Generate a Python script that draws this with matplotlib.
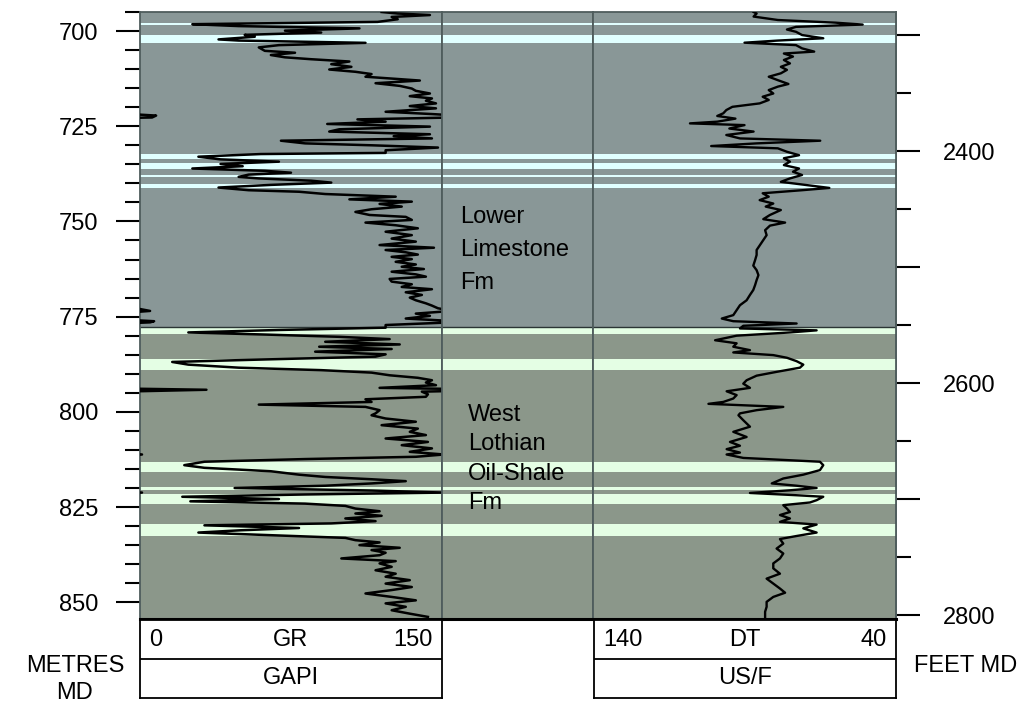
import numpy as np
import matplotlib
matplotlib.use("Agg")
import matplotlib.pyplot as plt
from matplotlib.ticker import MultipleLocator, FixedLocator, FuncFormatter

plt.rcParams['font.family'] = ['Liberation Sans', 'DejaVu Sans']

# Depth window (metres MD)
top_depth = 695.0
base_depth = 854.4

# Formations
formation_names = ["Lower\nLimestone\nFm", "West\nLothian\nOil-Shale\nFm"]
formation_tops = [695.0, 777.8]
formation_bases = [777.8, 854.4]

# Pale (limestone) beds inside each formation: (top, base)
upper_beds = [(697.8, 698.4), (701.0, 703.1), (732.3, 733.6),
              (734.6, 736.2), (737.7, 738.4), (740.2, 741.1)]
lower_beds = [(778.1, 779.5), (786.2, 789.0), (813.1, 815.8),
              (819.7, 820.6), (821.7, 824.1), (829.5, 832.6)]

# Feet ticks on the right-hand depth scale
feet_major = [2300, 2400, 2500, 2600, 2700, 2800]
feet_minor = [2350, 2450, 2550, 2650, 2750]
feet_labelled = [2400, 2600, 2800]

# Gamma ray log
gr_depth = [
    695.0, 695.4, 695.8, 696.3, 696.9, 697.6, 698.2, 698.7, 699.3, 699.9,
    700.4, 701.0, 701.5, 702.2, 702.5, 703.1, 703.7, 704.3, 705.2, 705.7,
    706.3, 706.9, 707.4, 708.0, 708.7, 709.4, 710.1, 710.7, 711.3, 712.0,
    713.0, 713.7, 714.4, 715.1, 715.7, 716.4, 717.1, 717.7, 718.3, 719.0,
    719.7, 720.3, 721.2, 721.8, 722.2, 722.7, 723.2, 723.8, 724.4, 725.1,
    725.8, 726.4, 727.1, 727.6, 728.2, 728.8, 729.5, 730.0, 730.6, 731.3,
    732.0, 732.3, 733.0, 733.7, 734.3, 734.9, 735.5, 736.1, 736.7, 737.2,
    737.7, 738.3, 738.7, 739.3, 739.8, 740.4, 741.1, 741.8, 742.2, 742.8,
    743.5, 744.2, 744.8, 745.4, 746.1, 746.8, 747.5, 748.3, 748.8, 749.6,
    750.3, 751.0, 751.8, 752.7, 753.6, 754.5, 755.3, 756.2, 756.9, 757.5,
    758.1, 758.7, 759.3, 759.9, 760.6, 761.3, 761.9, 762.5, 763.2, 763.9,
    764.5, 765.1, 765.8, 766.5, 767.2, 767.8, 768.6, 769.3, 770.0, 770.7,
    771.5, 772.1, 772.8, 773.5, 774.2, 774.8, 775.5, 776.2, 776.5, 777.2,
    777.9, 778.5, 779.15, 779.7, 780.3, 780.9, 781.6, 782.3, 782.9, 783.5,
    784.2, 784.9, 785.5, 786.2, 786.9, 787.6, 788.4, 789.05, 789.7, 790.4,
    791.06, 791.7, 792.3, 793.0, 793.7, 794.2, 794.7, 795.4, 796.05, 796.7,
    797.4, 798.1, 798.7, 799.56, 800.4, 800.9, 801.75, 802.6, 803.5, 804.4,
    805.25, 806.1, 807.0, 807.9, 808.75, 809.6, 810.5, 811.2, 811.8, 812.4,
    813.1, 814.0, 814.7, 815.6, 816.5, 817.1, 817.7, 818.2, 818.8, 819.4,
    820.0, 820.66, 821.2, 821.7, 822.3, 822.9, 823.5, 824.1, 824.7, 825.4,
    826.1, 826.7, 827.3, 828.0, 828.7, 829.3, 829.8, 830.5, 831.1, 831.7,
    832.4, 833.1, 833.7, 834.3, 835.0, 835.7, 836.3, 837.0, 837.65, 838.5,
    839.2, 839.8, 840.7, 841.6, 842.5, 843.3, 844.2, 845.1, 846.0, 846.8,
    847.7, 848.6, 849.5, 850.3, 851.2, 852.1, 853.0, 853.85,
]
gr_value = [
    120, 128, 144, 125, 128, 118, 26, 49, 109, 72,
    90, 52, 57, 39, 49, 112, 69, 59, 62, 77,
    65, 72, 85, 104, 95, 105, 94, 107, 115, 112,
    139, 117, 129, 135, 137, 144, 134, 145, 142, 147,
    134, 147, 122, 145, 158, 156, 108, 122, 93, 144,
    99, 94, 144, 126, 145, 70, 82, 115, 148, 122,
    122, 60, 29, 40, 69, 40, 51, 26, 62, 75,
    54, 49, 59, 85, 95, 65, 39, 54, 79, 92,
    127, 104, 135, 119, 130, 115, 107, 114, 132, 135,
    112, 127, 138, 122, 135, 125, 137, 119, 146, 122,
    132, 138, 125, 135, 127, 137, 130, 141, 125, 137,
    142, 124, 125, 135, 130, 145, 132, 140, 134, 137,
    142, 145, 148, 155, 137, 144, 132, 157, 155, 122,
    122, 69, 24, 62, 99, 124, 92, 129, 89, 125,
    87, 122, 117, 65, 16, 24, 49, 90, 115, 124,
    138, 145, 142, 147, 119, 183, 140, 143, 142, 112,
    115, 59, 112, 119, 117, 115, 122, 137, 120, 138,
    134, 142, 122, 143, 130, 145, 134, 151, 137, 82,
    32, 22, 32, 65, 79, 92, 115, 132, 115, 92,
    47, 115, 151, 82, 21, 69, 25, 82, 102, 107,
    119, 107, 120, 102, 117, 95, 32, 79, 50, 29,
    65, 102, 107, 119, 109, 129, 115, 122, 119, 100,
    127, 119, 125, 117, 127, 122, 134, 122, 135, 125,
    112, 125, 137, 122, 132, 125, 134, 143,
]

# Sonic log
dt_depth = [
    695.0, 695.4, 696.2, 697.1, 697.8, 698.3, 698.9, 699.6, 700.2, 701.05,
    701.9, 702.5, 703.06, 703.7, 704.55, 705.4, 705.9, 706.7, 707.6, 708.5,
    709.4, 710.2, 711.1, 712.0, 712.9, 713.9, 714.6, 715.5, 716.4, 717.25,
    718.1, 719.0, 719.9, 720.75, 721.6, 722.3, 723.0, 723.8, 724.25, 724.7,
    725.6, 726.4, 727.3, 728.2, 728.8, 729.5, 730.2, 730.8, 731.7, 732.6,
    733.4, 734.3, 735.2, 736.1, 736.95, 737.8, 738.7, 739.6, 740.45, 741.2,
    741.8, 742.6, 743.5, 744.4, 745.3, 746.1, 747.0, 748.3, 749.4, 750.3,
    751.1, 752.3, 753.6, 754.9, 756.2, 757.5, 758.8, 760.15, 761.6, 762.8,
    764.1, 765.4, 766.7, 768.0, 769.3, 770.7, 772.0, 773.3, 774.6, 775.5,
    776.2, 776.8, 777.4, 778.1, 778.6, 779.15, 780.0, 781.2, 782.0, 782.9,
    783.8, 784.4, 785.1, 785.8, 786.7, 787.6, 788.4, 789.5, 790.5, 791.7,
    792.6, 793.7, 794.6, 795.6, 796.5, 797.4, 797.9, 798.7, 799.56, 800.4,
    800.9, 802.2, 803.9, 805.25, 806.6, 807.9, 808.9, 809.8, 810.7, 811.2,
    812.1, 812.7, 813.1, 814.0, 815.3, 816.5, 817.5, 818.8, 819.4, 820.0,
    820.6, 821.3, 821.9, 822.3, 823.2, 823.8, 824.5, 825.4, 826.3, 827.1,
    828.0, 828.9, 829.6, 830.6, 831.7, 832.6, 833.4, 834.6, 835.9, 837.2,
    838.5, 839.8, 841.1, 842.5, 843.8, 845.1, 846.4, 847.5, 848.6, 849.9,
    851.2, 852.5, 853.85,
]
dt_value = [
    87, 86, 87, 79, 60, 51, 73, 76, 73, 71,
    64, 79, 90, 73, 71, 67, 77, 74, 77, 75,
    78, 76, 78, 82, 79, 75.5, 79, 82, 80.5, 84,
    82, 85, 94, 96, 97, 99, 93, 99, 108, 90,
    95, 87, 96, 91.5, 65, 86, 101, 79, 76, 72,
    77, 75, 77, 72, 74, 71, 75, 78, 69.5, 62,
    71, 84, 82, 85, 80.5, 83, 78, 81.6, 83.8, 76.6,
    81.6, 83.2, 82.7, 83.8, 84.9, 86, 86, 86.5, 87.1, 86,
    85.4, 86, 86.5, 87.1, 88.2, 89.3, 91.5, 92.6, 93.7, 97.5,
    93.7, 72.8, 90.4, 91.5, 66.2, 75, 92.6, 99.7, 92.6, 93.7,
    88.2, 93.7, 80.5, 76, 72.8, 70.6, 71.7, 79.4, 86, 89.3,
    90.4, 88.2, 95.9, 92.6, 93.7, 97, 101.9, 77.2, 86, 91.5,
    92, 90.4, 88.2, 93.7, 89.3, 94.8, 91.5, 95.9, 91.5, 95.9,
    90.4, 75, 65.1, 64, 65.1, 70.6, 77.2, 81, 72.8, 66.2,
    75, 88.2, 72.8, 64, 66.2, 68.4, 77.2, 76, 75, 78.3,
    75, 78.3, 66.2, 70.6, 66.2, 72.8, 78.3, 77.2, 79.4, 77.2,
    78.3, 80.5, 80.5, 78.3, 82.7, 80.5, 78.3, 76.6, 80.5, 82.7,
    82.7, 83.2, 83.2,
]

gr_depth = np.array(gr_depth)
gr_value = np.array(gr_value, dtype=float)
dt_depth = np.array(dt_depth)
dt_value = np.array(dt_value, dtype=float)

zone_colors = ["#899797", "#8b978a"]
bed_colors = ["#e0ffff", "#e4fee4"]
spine_col = "#4f5d5d"

W, H = 1033, 705
fig = plt.figure(figsize=(W / 100, H / 100), dpi=100)


def px_axes(x0, y0, x1, y1):
    return fig.add_axes([x0 / W, 1 - y1 / H, (x1 - x0) / W, (y1 - y0) / H])


ax_gr = px_axes(140, 12, 442, 619)
ax_mid = px_axes(442, 12, 593, 619)
ax_dt = px_axes(593, 12, 896, 619)

for ax in (ax_gr, ax_mid, ax_dt):
    ax.set_ylim(base_depth, top_depth)
    for ftop, fbase, col in zip(formation_tops, formation_bases, zone_colors):
        ax.axhspan(ftop, fbase, color=col, lw=0, zorder=0)
    for beds, col in zip((upper_beds, lower_beds), bed_colors):
        for btop, bbase in beds:
            ax.axhspan(btop, bbase, color=col, lw=0, zorder=1)
    ax.axhline(formation_tops[1], color="#2b3535", lw=1.0, zorder=2)
    ax.set_xticks([])
    for s in ax.spines.values():
        s.set_color(spine_col)
        s.set_linewidth(1.3)
    ax.spines['bottom'].set_color('black')
    ax.spines['bottom'].set_linewidth(2.2)

ax_mid.set_yticks([])
ax_dt.set_yticks([])

# GR track, 0-150 with wrap-around for values above 150
ax_gr.set_xlim(0, 150)
ax_gr.plot(gr_value, gr_depth, color='black', lw=1.8, zorder=3)
ax_gr.plot(gr_value - 150, gr_depth, color='black', lw=1.8, zorder=3)

# DT track, reversed 140-40
ax_dt.set_xlim(140, 40)
ax_dt.plot(dt_value, dt_depth, color='black', lw=1.7, zorder=3)

# Depth axis in metres
ax_gr.yaxis.set_major_locator(MultipleLocator(25))
ax_gr.yaxis.set_minor_locator(MultipleLocator(5))
ax_gr.tick_params(axis='y', which='major', length=17, width=1.5, pad=13,
                  labelsize=17, color='black')
ax_gr.tick_params(axis='y', which='minor', length=11, width=1.5, color='black')

# Depth axis in feet
sec = ax_dt.secondary_yaxis('right', functions=(lambda m: m / 0.3048,
                                                 lambda f: f * 0.3048))
sec.yaxis.set_major_locator(FixedLocator(feet_major))
sec.yaxis.set_minor_locator(FixedLocator(feet_minor))
sec.yaxis.set_major_formatter(
    FuncFormatter(lambda v, p: f"{v:.0f}" if round(v) in feet_labelled else ""))
sec.tick_params(axis='y', which='major', length=17, width=1.5, pad=17,
                labelsize=17)
sec.tick_params(axis='y', which='minor', length=11, width=1.5)
sec.spines['right'].set_color(spine_col)
sec.spines['right'].set_linewidth(1.3)

# Formation names
for name, xf, yc, ls in zip(formation_names, [0.12, 0.17], [757.5, 812.4],
                            [1.62, 1.42]):
    ax_mid.text(xf, yc, name, transform=ax_mid.get_yaxis_transform(),
                ha='left', va='center', fontsize=17, linespacing=ls, zorder=4)


# Track headers at the bottom
def footer(x0, x1, lo, name, hi, unit):
    ax = px_axes(x0, 620, x1, 698)
    ax.set_xlim(0, 1)
    ax.set_ylim(0, 2)
    ax.axhline(1, color='black', lw=1.3)
    ax.set_xticks([])
    ax.set_yticks([])
    for s in ax.spines.values():
        s.set_linewidth(1.3)
    ax.text(0.03, 1.5, lo, ha='left', va='center', fontsize=17)
    ax.text(0.5, 1.5, name, ha='center', va='center', fontsize=17)
    ax.text(0.97, 1.5, hi, ha='right', va='center', fontsize=17)
    ax.text(0.5, 0.5, unit, ha='center', va='center', fontsize=17)


footer(140, 442, "0", "GR", "150", "GAPI")
footer(594, 896, "140", "DT", "40", "US/F")

fig.text(75 / W, 1 - 666 / H, "METRES", ha='center', va='center', fontsize=17)
fig.text(75 / W, 1 - 693 / H, "MD", ha='center', va='center', fontsize=17)
fig.text(966 / W, 1 - 666 / H, "FEET MD", ha='center', va='center', fontsize=17)

fig.savefig("out.png", dpi=100)
